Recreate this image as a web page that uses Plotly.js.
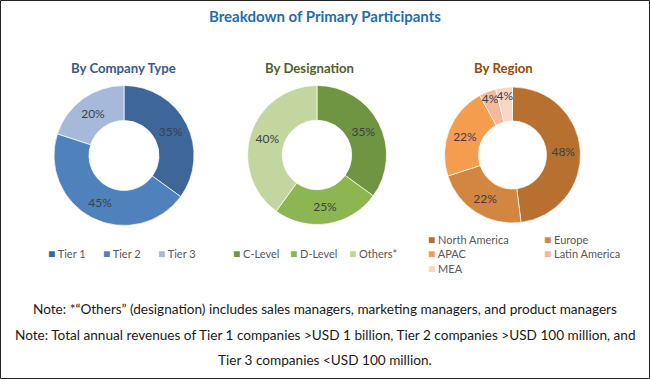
<!DOCTYPE html>
<html><head><meta charset="utf-8">
<script src="https://cdn.plot.ly/plotly-3.0.1.min.js"></script>
<style>body{margin:0;background:#fff}#chart{width:650px;height:379px}</style>
</head><body><div id="chart"></div>
<script>
const W = 650, H = 379;

// ---- data ----
const companyLabels = ['Tier 1', 'Tier 2', 'Tier 3'];
const companyValues = [35, 45, 20];
const designationLabels = ['C-Level', 'D-Level', 'Others*'];
const designationValues = [35, 25, 40];
const regionLabels = ['North America', 'Europe', 'APAC', 'Latin America', 'MEA'];
const regionValues = [48, 22, 22, 4, 4];

const chartTitle = 'Breakdown of Primary Participants';
const pieTitles = ['By Company Type', 'By Designation', 'By Region'];
const notes = [
  'Note: *\u201COthers\u201D (designation) includes sales managers, marketing managers, and product managers',
  'Note: Total annual revenues of Tier 1 companies &gt;USD 1 billion, Tier 2 companies &gt;USD 100 million, and',
  'Tier 3 companies &lt;USD 100 million.'
];

// ---- styles ----
const companyColors = ['#3F6699', '#4F81BD', '#A7B9DB'];
const designationColors = ['#6F9442', '#8DB653', '#C3D69F'];
const regionColors = ['#B7702F', '#D3863F', '#F59D4E', '#F5B89A', '#F9D5C4'];
const FONT = 'Lato, "Open Sans", sans-serif';

function px(x) { return x / W; }
function py(y) { return 1 - y / H; }
function dom(cx, cy, r) { return {x: [px(cx - r), px(cx + r)], y: [py(cy + r), py(cy - r)]}; }

function pie(labels, values, colors, d) {
  return {
    type: 'pie', labels: labels, values: values, sort: false, direction: 'clockwise', rotation: 0,
    hole: 0.5, domain: d,
    marker: {colors: colors, line: {color: 'rgba(255,255,255,0.7)', width: 1}},
    texttemplate: '%{value}%', textposition: 'inside', insidetextorientation: 'horizontal',
    textfont: {family: FONT, size: 12, color: '#3a3f4a'},
    hoverinfo: 'label+value', showlegend: false
  };
}

const data = [
  pie(companyLabels, companyValues, companyColors, dom(124, 155.5, 70)),
  pie(designationLabels, designationValues, designationColors, dom(317, 155, 69.5)),
  pie(regionLabels, regionValues, regionColors, dom(512.5, 155, 68))
];

function entryText(label, color) {
  return '<span style="color:' + color + ';font-size:12px">\u25A0</span> ' + label;
}

function legendAnns(labels, colors, positions) {
  return labels.map(function (l, i) {
    return {
      xref: 'paper', yref: 'paper', x: px(positions[i][0]), y: py(positions[i][1]),
      xanchor: 'left', yanchor: 'middle', showarrow: false,
      text: entryText(l, colors[i]),
      font: {family: FONT, size: 11, color: '#595959'}
    };
  });
}

// multi-column legend: one annotation per column, entries stacked with line breaks
function legendColumns(labels, colors, nCols, xs, yTop) {
  const anns = [];
  for (let c = 0; c < nCols; c++) {
    const lines = [];
    for (let i = c; i < labels.length; i += nCols) lines.push(entryText(labels[i], colors[i]));
    anns.push({
      xref: 'paper', yref: 'paper', x: px(xs[c]), y: py(yTop),
      xanchor: 'left', yanchor: 'top', align: 'left', showarrow: false,
      text: lines.join('<br>'),
      font: {family: FONT, size: 11, color: '#595959'}
    });
  }
  return anns;
}

function textAnn(text, x, y, size, color, bold) {
  return {
    xref: 'paper', yref: 'paper', x: px(x), y: py(y), xanchor: 'center', yanchor: 'middle',
    showarrow: false, text: bold ? '<b>' + text + '</b>' : text,
    font: {family: FONT, size: size, color: color}
  };
}

const annotations = [].concat(
  [textAnn(chartTitle, 325, 16, 15, '#1F6DB2', true)],
  [textAnn(pieTitles[0], 123, 68, 13.2, '#355C8C', true),
   textAnn(pieTitles[1], 309, 68, 13.2, '#4F6228', true),
   textAnn(pieTitles[2], 503, 68, 13.2, '#984807', true)],
  legendAnns(companyLabels, companyColors, [[46, 253], [101, 253], [156, 253]]),
  legendAnns(designationLabels, designationColors, [[231, 253], [288, 253], [347, 253]]),
  legendColumns(regionLabels, regionColors, 2, [426, 542], 229.5),
  [textAnn(notes[0], 325, 309, 13.6, '#1a1a1a', false),
   textAnn(notes[1], 325, 335, 13.6, '#1a1a1a', false),
   textAnn(notes[2], 325, 360, 13.6, '#1a1a1a', false)]
);

const layout = {
  width: W, height: H,
  margin: {l: 0, r: 0, t: 0, b: 0},
  paper_bgcolor: '#ffffff',
  font: {family: FONT},
  uniformtext: {minsize: 12, mode: 'show'},
  annotations: annotations,
  shapes: [{type: 'rect', xref: 'paper', yref: 'paper', x0: px(0.5), x1: px(649.5), y0: py(378.5), y1: py(0.5),
            line: {color: '#222222', width: 1}}]
};

Plotly.newPlot('chart', data, layout, {displayModeBar: false, staticPlot: true});
</script>
</body></html>
